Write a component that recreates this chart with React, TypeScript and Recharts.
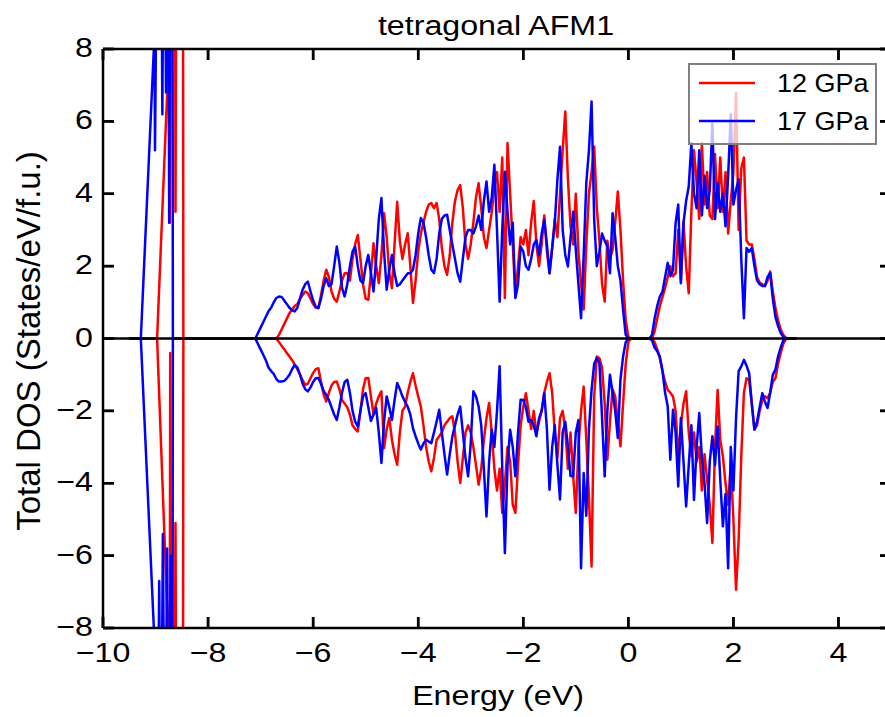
import React from 'react';
import { LineChart, Line, XAxis, YAxis, ReferenceLine, Legend } from 'recharts';

// ---------- data ----------
const xTicks = [-10, -8, -6, -4, -2, 0, 2, 4];
const yTicks = [-8, -6, -4, -2, 0, 2, 4, 6, 8];
const seriesNames = ['12 GPa', '17 GPa'];
const seriesColors = ['#ff0000', '#0000ff'];
const chartTitle = 'tetragonal AFM1';
const xLabel = 'Energy (eV)';
const yLabel = 'Total DOS (States/eV/f.u.)';

// energy grid of the valence / conduction region (eV)
const GRID_START = -7.3;
const GRID_STEP = 0.05;
const GRID_COUNT = 211;
const energyGrid = Array.from({ length: GRID_COUNT }, (_, i) => Math.round((GRID_START + GRID_STEP * i) * 100) / 100);

// semi-core region (sharp peaks, clipped by the axes)
const coreEnergyRedUp = [-9.5, -8.97, -8.75, -8.73, -8.7, -8.63, -8.62, -8.6, -8.48, -8.47, -8.2];
const coreRedUp = [0, 0, 7.8, 3.2, 14, 14, 3.5, 14, 14, 0, 0];
const coreEnergyRedDown = [-9.5, -8.97, -8.76, -8.73, -8.72, -8.71, -8.64, -8.62, -8.6, -8.48, -8.47, -8.2];
const coreRedDown = [0, 0, -8.2, -10, -0.4, -14, -14, -5.1, -14, -14, 0, 0];
const coreEnergyBlueUp = [-9.5, -9.28, -9.02, -9.01, -8.96, -8.9, -8.87, -8.84, -8.8, -8.76, -8.74, -8.71, -8.68, -8.67, -8.2];
const coreBlueUp = [0, 0, 8.4, 5.2, 14, 14, 6.2, 14, 6.8, 14, 3.2, 14, 14, 0, 0];
const coreEnergyBlueDown = [-9.5, -9.28, -9.02, -8.97, -8.93, -8.9, -8.86, -8.82, -8.78, -8.75, -8.71, -8.68, -8.67, -8.2];
const coreBlueDown = [0, 0, -8.4, -14, -6.7, -14, -5.4, -14, -5.8, -14, -6.0, -14, 0, 0];

// 12 GPa, spin up
const redUp = [
  0, 0, 0, 0, 0, 0, 0, 0, 0, 0,
  0, 0, 0, 0.1, 0.25, 0.4, 0.55, 0.7, 0.8, 0.9,
  0.95, 1.1, 1.2, 1.3, 1.25, 1.1, 0.95, 0.85, 0.84, 1.2,
  1.6, 1.9, 1.7, 1.3, 1.1, 1.02, 1.3, 1.6, 1.8, 1.81,
  1.6, 2.2, 2.6, 2.86, 2.2, 1.5, 1.1, 1.07, 1.8, 2.63,
  2.0, 1.53, 2.3, 3.46, 2.8, 1.8, 1.39, 2.6, 3.78, 2.7,
  2.2, 2.6, 2.91, 2.0, 0.98, 1.6, 2.4, 2.9, 3.2, 3.5,
  3.7, 3.74, 3.6, 3.74, 3.3, 2.5, 2.0, 1.76, 2.3, 3.2,
  3.8, 4.1, 4.24, 3.6, 2.6, 2.2, 2.6, 3.2, 3.9, 4.29,
  3.6, 2.8, 2.5, 3.0, 3.5, 4.2, 4.6, 3.5, 5.0, 1.12,
  5.4, 4.0, 2.6, 1.16, 2.0, 2.8, 2.6, 3.0, 2.3, 3.2,
  3.8, 2.6, 2.0, 2.6, 3.4, 2.4, 1.8, 2.5, 3.3, 2.8,
  4.0, 5.2, 6.27, 4.4, 3.1, 2.6, 4.0, 2.4, 1.5, 0.8,
  2.6, 4.0, 4.6, 5.3, 3.6, 2.7, 1.5, 1.02, 2.7, 2.2,
  2.45, 3.2, 4.06, 3.0, 1.6, 0.5, 0.05, 0, 0, 0,
  0, 0, 0, 0, 0, 0, 0.2, 0.55, 0.9, 1.15,
  1.4, 1.7, 2.0, 1.72, 1.8, 3.0, 1.6, 3.23, 2.0, 1.25,
  3.5, 5.2, 4.3, 3.3, 5.4, 3.7, 4.6, 3.4, 3.3, 5.1,
  3.6, 5.0, 3.5, 4.6, 2.9, 3.8, 4.6, 6.78, 3.0, 4.7,
  5.0, 2.7, 2.6, 2.6, 2.2, 1.7, 1.55, 1.5, 1.45, 1.6,
  1.85, 1.3, 0.85, 0.5, 0.25, 0.1, 0.02, 0, 0, 0,
  0,
];

// 12 GPa, spin down
const redDown = [
  0, 0, 0, 0, 0, 0, 0, 0, 0, 0,
  0, 0, 0, -0.1, -0.2, -0.3, -0.4, -0.5, -0.6, -0.73,
  -0.85, -1.0, -1.15, -1.28, -1.25, -1.1, -0.95, -0.85, -0.82, -1.2,
  -1.55, -1.74, -1.5, -1.3, -1.2, -1.19, -1.4, -1.7, -1.8, -1.9,
  -2.1, -2.4, -2.5, -2.57, -2.0, -1.4, -1.1, -1.09, -1.6, -2.1,
  -1.8, -1.6, -1.46, -3.03, -2.5, -2.2, -2.8, -3.2, -3.49, -2.6,
  -2.0, -1.88, -1.5, -1.2, -0.96, -1.3, -1.6, -1.88, -2.4, -3.0,
  -3.4, -3.67, -3.3, -2.8, -2.7, -2.6, -2.4, -2.3, -2.2, -2.15,
  -2.6, -3.4, -3.99, -3.3, -2.6, -2.4, -2.6, -3.0, -3.5, -4.04,
  -3.6, -2.8, -2.2, -1.78, -2.6, -3.6, -4.2, -3.6, -4.82, -4.0,
  -3.0, -3.4, -4.6, -4.82, -3.5, -2.4, -1.9, -1.51, -2.0, -2.5,
  -2.0, -2.6, -2.3, -2.0, -1.5, -1.2, -0.96, -1.5, -2.6, -3.3,
  -2.2, -2.0, -2.52, -3.6, -2.6, -3.8, -4.82, -3.0, -2.0, -1.33,
  -2.8, -4.4, -6.3, -1.6, -0.5, -0.55, -0.8, -1.8, -3.35, -2.3,
  -1.4, -1.6, -2.3, -2.98, -1.8, -0.7, -0.1, 0, 0, 0,
  0, 0, 0, 0, 0, 0, -0.1, -0.3, -0.55, -0.9,
  -1.2, -1.42, -1.5, -1.6, -2.0, -3.26, -2.4, -1.8, -1.46, -2.6,
  -3.26, -2.6, -3.4, -3.0, -4.2, -3.2, -3.9, -4.6, -5.65, -3.0,
  -1.42, -2.8, -3.26, -4.0, -4.6, -3.5, -5.0, -6.94, -5.56, -3.26,
  -1.5, -1.1, -1.15, -1.8, -2.52, -2.4, -2.0, -1.7, -1.6, -1.65,
  -1.5, -1.2, -1.1, -0.7, -0.4, -0.15, -0.02, 0, 0, 0,
  0,
];

// 17 GPa, spin up
const blueUp = [
  0, 0, 0, 0, 0, 0.15, 0.3, 0.45, 0.6, 0.75,
  0.85, 1.0, 1.12, 1.16, 1.15, 1.05, 0.95, 0.85, 0.78, 0.75,
  0.85, 1.1, 1.35, 1.5, 1.57, 1.3, 1.05, 0.88, 0.84, 1.1,
  1.45, 1.67, 1.45, 1.5, 2.0, 2.54, 2.1, 1.4, 1.16, 1.5,
  2.0, 2.4, 2.54, 2.0, 1.6, 1.53, 2.0, 2.31, 1.8, 1.3,
  2.2, 3.3, 3.88, 2.4, 1.35, 1.9, 2.31, 1.8, 1.45, 1.5,
  1.6, 1.7, 1.8, 1.8, 1.9, 2.3, 2.9, 3.33, 3.2, 2.8,
  2.3, 1.9, 1.81, 2.2, 2.9, 3.3, 3.4, 3.42, 3.0, 2.6,
  2.2, 1.8, 1.57, 2.2, 2.8, 3.0, 3.0, 2.9, 3.1, 3.4,
  3.0, 3.8, 4.34, 3.5, 3.9, 4.8, 3.0, 1.02, 3.0, 4.61,
  3.5, 2.6, 3.2, 1.12, 1.5, 2.54, 2.4, 2.0, 1.9, 2.2,
  2.6, 2.72, 2.3, 2.9, 3.28, 2.6, 1.8, 2.5, 3.2, 4.4,
  5.3, 3.0, 2.3, 1.99, 2.8, 3.5, 2.45, 1.5, 0.56, 2.3,
  4.3, 5.2, 6.55, 3.28, 2.0, 2.4, 2.9, 2.7, 2.54, 1.8,
  3.46, 2.8, 2.0, 1.6, 0.8, 0.1, 0, 0, 0, 0,
  0, 0, 0, 0, 0, 0.1, 0.55, 0.9, 1.16, 1.3,
  1.7, 2.09, 1.72, 1.9, 3.2, 3.7, 1.53, 3.19, 3.8, 4.2,
  5.4, 4.0, 3.6, 5.2, 3.4, 4.5, 3.6, 4.1, 5.95, 3.3,
  4.3, 3.5, 4.0, 3.1, 4.5, 6.2, 3.7, 4.1, 4.4, 2.2,
  0.56, 2.5, 2.4, 2.5, 2.0, 1.6, 1.5, 1.45, 1.45, 1.7,
  1.81, 1.1, 0.6, 0.35, 0.15, 0.05, 0, 0, 0, 0,
  0,
];

// 17 GPa, spin down
const blueDown = [
  0, 0, 0, 0, 0, -0.15, -0.3, -0.45, -0.6, -0.8,
  -0.9, -0.98, -1.12, -1.19, -1.19, -1.17, -1.1, -1.0, -0.85, -0.73,
  -0.8, -1.0, -1.25, -1.4, -1.46, -1.35, -1.2, -1.1, -1.09, -1.25,
  -1.45, -1.56, -1.7, -1.9, -2.1, -2.25, -1.9, -1.5, -1.2, -1.14,
  -1.5, -2.0, -2.3, -2.43, -2.0, -1.6, -1.51, -1.9, -2.28, -2.1,
  -1.92, -2.6, -3.44, -2.3, -1.6, -1.9, -2.25, -1.7, -1.23, -1.4,
  -1.6, -1.75, -1.88, -2.1, -2.48, -2.7, -2.9, -3.07, -2.9, -2.8,
  -2.85, -2.89, -2.6, -2.3, -1.97, -2.6, -3.2, -3.76, -3.2, -2.71,
  -2.4, -2.1, -1.88, -2.6, -3.3, -3.81, -2.9, -1.46, -1.6, -1.88,
  -2.4, -3.6, -4.92, -3.4, -2.52, -3.0, -2.0, -0.77, -3.6, -5.93,
  -3.5, -2.52, -3.0, -3.81, -2.6, -1.69, -1.7, -1.9, -2.3, -2.25,
  -2.4, -2.7, -2.2, -2.0, -1.51, -2.5, -4.18, -3.0, -2.4, -3.5,
  -4.45, -2.6, -2.3, -3.0, -3.8, -3.81, -2.6, -2.25, -6.35, -3.72,
  -4.9, -2.5, -1.42, -0.7, -0.54, -0.68, -2.2, -3.81, -2.0, -1.0,
  -1.5, -2.0, -2.75, -1.14, -0.5, -0.1, 0, 0, 0, 0,
  0, 0, 0, 0, 0, -0.05, -0.25, -0.35, -0.5, -0.9,
  -1.5, -1.88, -3.35, -1.97, -2.6, -4.09, -2.2, -3.4, -4.64, -3.5,
  -2.4, -4.46, -3.0, -2.06, -3.3, -4.0, -5.1, -3.4, -2.7, -3.5,
  -2.43, -3.9, -5.19, -4.3, -6.35, -3.0, -4.2, -2.2, -0.9, -0.77,
  -0.59, -0.75, -0.96, -1.8, -2.52, -2.3, -1.9, -1.51, -1.75, -1.92,
  -1.5, -1.0, -0.86, -0.5, -0.25, -0.05, 0, 0, 0, 0,
  0,
];

const toPoints = (es: number[], vs: number[]) => es.map((e, i) => ({ e, v: vs[i] }));
const redUpData = [...toPoints(coreEnergyRedUp, coreRedUp), ...toPoints(energyGrid, redUp)];
const redDownData = [...toPoints(coreEnergyRedDown, coreRedDown), ...toPoints(energyGrid, redDown)];
const blueUpData = [...toPoints(coreEnergyBlueUp, coreBlueUp), ...toPoints(energyGrid, blueUp)];
const blueDownData = [...toPoints(coreEnergyBlueDown, coreBlueDown), ...toPoints(energyGrid, blueDown)];

// ---------- layout ----------
const W = 900;
const H = 709;
const PLOT_LEFT = 95;
const PLOT_RIGHT = 883;
const PLOT_TOP = 41;
const PLOT_BOTTOM = 620;
const FONT = '"Liberation Sans", Arial, Helvetica, sans-serif';
const TICK_LEN = 11;
const SX = 1.15; // horizontal stretch of the reference text
const LINE_W = 2.5;
const TICK_STYLE = { stroke: '#000', strokeWidth: 2.5 };

const fmt = (v: number) => (v < 0 ? '\u2212' + Math.abs(v) : String(v));

function BottomTick(props: any) {
  const { x, payload } = props;
  return (
    <g>
      <line x1={x} y1={PLOT_BOTTOM} x2={x} y2={PLOT_BOTTOM - TICK_LEN} stroke="#000" strokeWidth={2.5} />
      <text transform={`translate(${x},${PLOT_BOTTOM + 34}) scale(${SX},1)`} textAnchor="middle" fontFamily={FONT} fontSize={28} fill="#000">
        {fmt(payload.value)}
      </text>
    </g>
  );
}

function TopTick(props: any) {
  const { x } = props;
  return <line x1={x} y1={PLOT_TOP} x2={x} y2={PLOT_TOP + TICK_LEN} stroke="#000" strokeWidth={2.5} />;
}

function LeftTick(props: any) {
  const { y, payload } = props;
  return (
    <g>
      <line x1={PLOT_LEFT} y1={y} x2={PLOT_LEFT + TICK_LEN} y2={y} stroke="#000" strokeWidth={2.5} />
      <text transform={`translate(${PLOT_LEFT - 10},${y + 8}) scale(${SX},1)`} textAnchor="end" fontFamily={FONT} fontSize={28} fill="#000">
        {fmt(payload.value)}
      </text>
    </g>
  );
}

function RightTick(props: any) {
  const { y } = props;
  return <line x1={PLOT_RIGHT} y1={y} x2={PLOT_RIGHT - TICK_LEN} y2={y} stroke="#000" strokeWidth={2.5} />;
}

function LegendBox(props: any) {
  const items = (props.payload || []).filter((p: any) => p.type !== 'none');
  return (
    <svg width={189} height={82} style={{ display: 'block' }}>
      <rect x={1} y={1} width={187} height={80} fill="rgba(255,255,255,0.75)" stroke="#808080" strokeWidth={2} />
      {items.map((it: any, i: number) => (
        <g key={it.value}>
          <line x1={11} x2={67} y1={20 + 38 * i} y2={20 + 38 * i} stroke={it.color} strokeWidth={LINE_W} />
          <text transform={`translate(89,${29 + 38 * i}) scale(1.08,1)`} fontFamily={FONT} fontSize={25} fill="#000">
            {it.value}
          </text>
        </g>
      ))}
    </svg>
  );
}

export default function App() {
  return (
    <div style={{ position: 'absolute', left: 8, top: 8, width: 877, height: H, overflow: 'hidden', background: '#fff' }}>
      <LineChart width={W} height={H} margin={{ top: 31, right: 7, bottom: 39, left: 0 }}>
        <XAxis
          xAxisId={0}
          dataKey="e"
          type="number"
          domain={[-10, 5]}
          ticks={xTicks}
          interval={0}
          allowDataOverflow
          height={50}
          tickSize={-TICK_LEN}
          tickMargin={0}
          tickLine={TICK_STYLE}
          axisLine={{ stroke: '#000', strokeWidth: 2.5 }}
          tick={<BottomTick />}
          label={{
            content: () => (
              <text transform={`translate(490,697) scale(${SX},1)`} textAnchor="middle" fontFamily={FONT} fontSize={28} fill="#000">
                {xLabel}
              </text>
            ),
          }}
        />
        <XAxis
          xAxisId="top"
          orientation="top"
          dataKey="e"
          type="number"
          domain={[-10, 5]}
          ticks={xTicks}
          interval={0}
          allowDataOverflow
          height={10}
          tickSize={-TICK_LEN}
          tickMargin={0}
          tickLine={TICK_STYLE}
          axisLine={{ stroke: '#000', strokeWidth: 2.5 }}
          tick={<TopTick />}
          label={{
            content: () => (
              <text transform={`translate(488,27) scale(${SX},1)`} textAnchor="middle" fontFamily={FONT} fontSize={28} fill="#000">
                {chartTitle}
              </text>
            ),
          }}
        />
        <YAxis
          yAxisId={0}
          type="number"
          domain={[-8, 8]}
          ticks={yTicks}
          interval={0}
          allowDataOverflow
          width={95}
          tickSize={-TICK_LEN}
          tickMargin={0}
          tickLine={TICK_STYLE}
          axisLine={{ stroke: '#000', strokeWidth: 2.5 }}
          tick={<LeftTick />}
          label={{
            content: () => (
              <text transform="translate(32,333) rotate(-90)" textAnchor="middle" fontFamily={FONT} fontSize={33} fill="#000">
                {yLabel}
              </text>
            ),
          }}
        />
        <YAxis
          yAxisId="right"
          orientation="right"
          type="number"
          domain={[-8, 8]}
          ticks={yTicks}
          interval={0}
          allowDataOverflow
          width={10}
          tickSize={-TICK_LEN}
          tickMargin={0}
          tickLine={TICK_STYLE}
          axisLine={{ stroke: '#000', strokeWidth: 2.5 }}
          tick={<RightTick />}
        />
        <Line data={redUpData} dataKey="v" name={seriesNames[0]} stroke={seriesColors[0]} strokeWidth={LINE_W} strokeLinejoin="round" dot={false} activeDot={false} isAnimationActive={false} />
        <Line data={redDownData} dataKey="v" name={seriesNames[0] + ' down'} legendType="none" stroke={seriesColors[0]} strokeWidth={LINE_W} strokeLinejoin="round" dot={false} activeDot={false} isAnimationActive={false} />
        <Line data={blueUpData} dataKey="v" name={seriesNames[1]} stroke={seriesColors[1]} strokeWidth={LINE_W} strokeLinejoin="round" dot={false} activeDot={false} isAnimationActive={false} />
        <Line data={blueDownData} dataKey="v" name={seriesNames[1] + ' down'} legendType="none" stroke={seriesColors[1]} strokeWidth={LINE_W} strokeLinejoin="round" dot={false} activeDot={false} isAnimationActive={false} />
        <ReferenceLine y={0} stroke="#000" strokeWidth={2.5} ifOverflow="hidden" />
        <Legend
          layout="horizontal"
          verticalAlign="middle"
          align="center"
          wrapperStyle={{ left: 680, top: 55, width: 189, height: 82 }}
          content={(p: any) => <LegendBox payload={p.payload} />}
        />
      </LineChart>
    </div>
  );
}
